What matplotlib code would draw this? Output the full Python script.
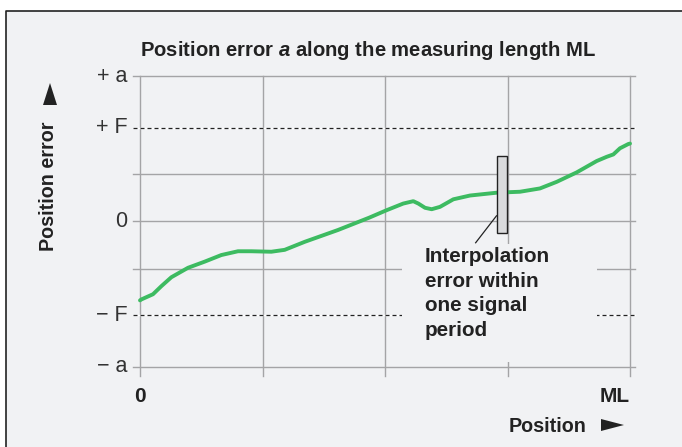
import matplotlib
matplotlib.use("Agg")
import matplotlib.pyplot as plt
from matplotlib.patches import Rectangle, Polygon

plt.rcParams["mathtext.fontset"] = "custom"
plt.rcParams["mathtext.bfit"] = "Liberation Sans:italic:bold"

# position along ML (grid units 0..4) and position error (grid units)
pos = [0.0, 0.011, 0.106, 0.174, 0.256, 0.392, 0.528, 0.664, 0.8, 0.909,
       1.072, 1.181, 1.345, 1.616, 1.87, 2.014, 2.149, 2.231, 2.272, 2.327,
       2.381, 2.449, 2.558, 2.694, 2.912, 3.102, 3.265, 3.402, 3.565, 3.728,
       3.81, 3.864, 3.918, 3.986, 4.0]
err = [-1.67, -1.65, -1.54, -1.37, -1.18, -0.98, -0.85, -0.71, -0.63, -0.63,
       -0.64, -0.60, -0.43, -0.18, 0.08, 0.24, 0.38, 0.43, 0.38, 0.29,
       0.26, 0.31, 0.47, 0.55, 0.61, 0.63, 0.70, 0.84, 1.04, 1.28,
       1.37, 1.42, 1.55, 1.64, 1.65]

a_lim = 3.07
f_lim = 1.98
ytick_vals = [a_lim, f_lim, 0, -f_lim, -a_lim]
ytick_text = ["+ a", "+ F", "0", "\u2212 F", "\u2212 a"]
grid_x = [0, 1, 2, 3, 4]
grid_y = [a_lim, 1, 0, -1, -a_lim]
f_lines = [f_lim, -f_lim]

# interpolation error bar (position, bottom, top)
interp_x = 2.955
interp_lo, interp_hi = -0.24, 1.39

bg = "#f1f2f4"
green = "#3dbb61"
gridc = "#a4a4a6"
dark = "#222222"
font = "Liberation Sans"

W, H = 682, 447
fig = plt.figure(figsize=(W / 100, H / 100), dpi=100, facecolor=bg)

# white margin above and left of the framed panel
fig.patches.append(Rectangle((0, (H - 11) / H), 1, 1, transform=fig.transFigure,
                             facecolor="white", edgecolor="none", zorder=0))
fig.patches.append(Rectangle((0, 0), 6 / W, 1, transform=fig.transFigure,
                             facecolor="white", edgecolor="none", zorder=0))
fig.lines.append(plt.Line2D([6 / W, 6 / W, 1], [0, (H - 11) / H, (H - 11) / H],
                            transform=fig.transFigure, color=dark, lw=1.2))

ax = fig.add_axes([140 / W, (H - 366.5) / H, 490 / W, 290 / H])
ax.set_zorder(5)
ax.set_xlim(0, 4)
ax.set_ylim(-a_lim, a_lim)
ax.axis("off")

# grid with little stubs past the frame
for gx in grid_x:
    ax.plot([gx, gx], [-a_lim - 0.2, a_lim], color=gridc, lw=1.0, clip_on=False, zorder=1)
for gy in grid_y:
    ax.plot([-0.055, 4.04], [gy, gy], color=gridc, lw=1.0, clip_on=False, zorder=1)
for fy in f_lines:
    ax.plot([-0.055, 4.04], [fy, fy], color="white", lw=1.0, clip_on=False, zorder=1.5)
    ax.plot([-0.055, 4.04], [fy, fy], color=dark, lw=0.9,
            linestyle=(0, (3.2, 2.4)), clip_on=False, zorder=1.6)

# blank area behind the annotation
ax.add_patch(Rectangle((2.14, -2.98), 1.59, 2.5, facecolor=bg, edgecolor="none", zorder=2))

ax.plot(pos, err, color=green, lw=2.8, solid_capstyle="round", solid_joinstyle="round",
        zorder=3, clip_on=False)

ax.add_patch(Rectangle((interp_x - 0.041, interp_lo), 0.082, interp_hi - interp_lo,
                       facecolor="#d9dadc", edgecolor=dark, lw=1.0, zorder=4))
ax.plot([2.74, 2.91], [-0.45, 0.12], color=dark, lw=0.9, zorder=4)

ax.text(2.327, -0.54, "Interpolation\nerror within\none signal\nperiod",
        fontsize=14.9, fontweight="bold", family=font, color=dark,
        va="top", ha="left", linespacing=1.38, zorder=5)

for v, t in zip(ytick_vals, ytick_text):
    ax.text(-0.1, v, t, fontsize=15.5, family=font, color="#333333",
            ha="right", va="center")

ax.text(0, -3.70, "0", fontsize=15, fontweight="bold", family=font,
        color=dark, ha="center", va="center")
ax.text(4.0, -3.70, "ML", fontsize=15, fontweight="bold", family=font,
        color=dark, ha="right", va="center")

fig.text(140 / W, 1 - 50 / H, "Position error $\\mathbfit{a}$ along the measuring length ML",
         fontsize=14.6, fontweight="bold", family=font, color=dark,
         ha="left", va="center")
fig.text(548 / W, 1 - 426 / H, "Position", fontsize=14.2, fontweight="bold",
         family=font, color=dark, ha="center", va="center")
fig.text(49 / W, 1 - 186 / H, "Position error", fontsize=14.2, fontweight="bold",
         family=font, color=dark, rotation=90, ha="center", va="center")

# arrow heads beside the axis titles (pixel coordinates)
fig.patches.append(Polygon([(43, H - 105), (57, H - 105), (50, H - 83)],
                           closed=True, transform=None, facecolor=dark, edgecolor="none"))
fig.patches.append(Polygon([(601, H - 419), (601, H - 431), (624, H - 425)],
                           closed=True, transform=None, facecolor=dark, edgecolor="none"))

fig.savefig("out.png", dpi=100, facecolor=bg)
